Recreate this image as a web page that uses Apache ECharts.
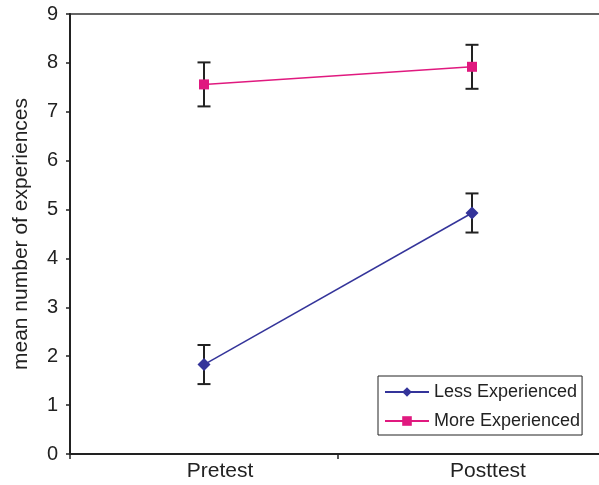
<!DOCTYPE html>
<html>
<head>
<meta charset="utf-8">
<script src="https://cdn.jsdelivr.net/npm/echarts@6/dist/echarts.min.js"></script>
<style>
  html, body { margin: 0; padding: 0; background: #fff; }
  #main { width: 599px; height: 485px; }
</style>
</head>
<body>
<div id="main"></div>
<script>
// data
const categories = ["Pretest", "Posttest"];
const lessMean = [1.83, 4.93];
const lessErr = [0.4, 0.4];
const moreMean = [7.56, 7.92];
const moreErr = [0.45, 0.45];
const yTicks = [0, 1, 2, 3, 4, 5, 6, 7, 8, 9];

const font = "'Liberation Sans', Arial, sans-serif";

// error bar ranges [index, low, high]
const toRanges = (means, errs) => means.map((m, i) => [i, m - errs[i], m + errs[i]]);

const renderBar = (params, api) => {
  const x = api.value(0);
  const lo = api.coord([x, api.value(1)]);
  const hi = api.coord([x, api.value(2)]);
  const cap = 6.5;
  const style = { stroke: "#222", lineWidth: 2 };
  return {
    type: "group",
    children: [
      { type: "line", shape: { x1: hi[0], y1: hi[1], x2: lo[0], y2: lo[1] }, style },
      { type: "line", shape: { x1: hi[0] - cap, y1: hi[1], x2: hi[0] + cap, y2: hi[1] }, style },
      { type: "line", shape: { x1: lo[0] - cap, y1: lo[1], x2: lo[0] + cap, y2: lo[1] }, style }
    ]
  };
};

const chart = echarts.init(document.getElementById("main"));
chart.setOption({
  backgroundColor: "#fff",
  animation: false,
  grid: {
    left: 70, width: 536, top: 14, bottom: 31,
    outerBoundsMode: "none",
    containLabel: false,
    show: true, borderColor: "#333", borderWidth: 1.5
  },
  legend: {
    orient: "vertical",
    left: 378, top: 376,
    padding: [7, 2, 5, 6],
    itemGap: 11,
    itemWidth: 44,
    itemHeight: 12,
    borderColor: "#222",
    borderWidth: 1,
    backgroundColor: "#fff",
    textStyle: { fontFamily: font, fontSize: 18, color: "#222" },
    data: ["Less Experienced", "More Experienced"]
  },
  xAxis: {
    type: "category",
    data: categories,
    boundaryGap: true,
    axisLine: { lineStyle: { color: "#222", width: 2 } },
    axisTick: { show: true, length: 5, lineStyle: { color: "#222", width: 1.5 } },
    axisLabel: {
      fontFamily: font, fontSize: 21, color: "#222", margin: 7,
      padding: [0, 0, 0, 32]
    },
    splitLine: { show: false }
  },
  yAxis: {
    type: "value",
    min: 0, max: 9, interval: 1,
    name: "mean number of experiences",
    nameLocation: "middle",
    nameGap: 38,
    nameTextStyle: { fontFamily: font, fontSize: 21, color: "#222" },
    axisLine: { show: true, lineStyle: { color: "#222", width: 2 } },
    axisTick: { show: true, length: 4, lineStyle: { color: "#222", width: 1.5 } },
    axisLabel: {
      fontFamily: font, fontSize: 20, color: "#222", margin: 12,
      formatter: (v) => (yTicks.includes(v) ? String(v) : "")
    },
    splitLine: { show: false }
  },
  series: [
    {
      name: "Less Experienced",
      type: "line",
      data: lessMean,
      symbol: "diamond",
      symbolSize: 13,
      color: "#34349a",
      lineStyle: { width: 1.5, color: "#34349a" },
      itemStyle: { color: "#34349a" },
      z: 3
    },
    {
      name: "More Experienced",
      type: "line",
      data: moreMean,
      symbol: "rect",
      symbolSize: 10,
      color: "#e0197f",
      lineStyle: { width: 1.5, color: "#e0197f" },
      itemStyle: { color: "#e0197f" },
      z: 3
    },
    {
      type: "custom",
      data: toRanges(lessMean, lessErr),
      renderItem: renderBar,
      z: 2
    },
    {
      type: "custom",
      data: toRanges(moreMean, moreErr),
      renderItem: renderBar,
      z: 2
    }
  ]
});
</script>
</body>
</html>
